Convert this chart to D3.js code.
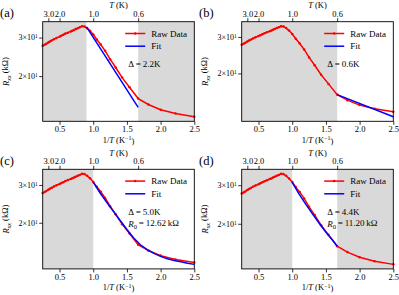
<!DOCTYPE html>
<html><head><meta charset="utf-8">
<script src="https://cdn.jsdelivr.net/npm/d3@7"></script>
<style>body{margin:0;background:#fff}svg{display:block}text{font-family:"Liberation Serif","DejaVu Serif",serif;fill:#000}</style>
</head><body>
<svg id="c" width="399" height="295"></svg>
<script>
// Raw data: temperature (K) and R_xx (kΩ)
const T_raw = [4.0,3.6,3.3,3.0,2.8,2.6,2.4,2.2,2.0,1.9,1.8,1.7,1.6,1.5,1.45,1.4,1.35,1.3,1.25,1.2,1.15,1.1,1.05,1.0,0.95,0.9,0.85,0.8,0.75,0.7,0.65,0.6,0.55,0.5,0.45,0.4];
const R_raw = [27.5,27.8,28.1,28.5,28.8,29.1,29.5,29.9,30.3,30.6,30.9,31.3,31.6,32.0,32.2,32.5,32.8,33.1,33.4,33.8,33.7,33.1,32.2,31.0,29.4,27.9,26.1,23.9,21.9,19.7,17.8,15.8,14.85,14.06,13.5,13.05];
// Fits (1/T in K^-1, R in kΩ)
const fitA_x = [0.9,1.667];
const fitA_R = [33.6,14.4];
const fitB_x = [1.667,2.5];
const fitB_R = [15.8,12.35];
const fitC_x = [1.0,1.1,1.2,1.3,1.4,1.5,1.6,1.7,1.8,1.9,2.0,2.1,2.2,2.3,2.4,2.5];
const fitC_R = [30.9,27.6,24.9,22.6,20.5,18.6,17.0,15.8,15.0,14.4,13.95,13.6,13.35,13.15,12.95,12.8];
const fitD_x = [1.0,1.1,1.2,1.3,1.4,1.5,1.6,1.667];
const fitD_R = [30.9,27.4,24.6,22.2,20.1,18.3,16.8,15.8];
// Shaded (excluded) ranges in 1/T
const grayA = [[0.25,0.9],[1.667,2.5]];
const grayB = [[0.25,1.667]];
const grayC = [[0.25,1.0]];
const grayD = [[0.25,1.0],[1.667,2.5]];
// Ticks
const xTicks = [0.5,1.0,1.5,2.0,2.5];
const topTicksT = [3.0,2.0,1.0,0.6];
const yTicks = [20,30];
const yTickMant = ["2","3"];
const xDomain = [0.25,2.5];

const panels = [
  {lab:"(a)", col:0,row:0, gray:grayA, fx:fitA_x, fr:fitA_R, delta:"2.2K", r0:null},
  {lab:"(b)", col:1,row:0, gray:grayB, fx:fitB_x, fr:fitB_R, delta:"0.6K", r0:null},
  {lab:"(c)", col:0,row:1, gray:grayC, fx:fitC_x, fr:fitC_R, delta:"5.0K", r0:"12.62"},
  {lab:"(d)", col:1,row:1, gray:grayD, fx:fitD_x, fr:fitD_R, delta:"4.4K", r0:"11.20"}
];

const svg = d3.select("#c");
const lefts = [42.7,241.7], tops = [21.7,169.3];
const W = 151.6, H = 99.6;
const RED = "#ff0000", BLUE = "#0000ff";
const raw = T_raw.map((t,i)=>({x:1/t, r:R_raw[i]}));

panels.forEach(p=>{
  const g = svg.append("g").attr("transform",`translate(${lefts[p.col]},${tops[p.row]})`);
  const fit = p.fx.map((x,i)=>({x:x, r:p.fr[i]}));
  const all = raw.concat(fit).map(d=>Math.log10(d.r));
  let lo = d3.min(all), hi = d3.max(all), L = hi-lo;
  const x = d3.scaleLinear().domain(xDomain).range([0,W]);
  const y = d3.scaleLog().domain([Math.pow(10,lo-0.05*L), Math.pow(10,hi+0.05*L)]).range([H,0]);

  g.selectAll("rect.sh").data(p.gray).join("rect").attr("class","sh")
    .attr("x",d=>x(d[0])).attr("width",d=>x(d[1])-x(d[0]))
    .attr("y",0).attr("height",H).attr("fill","#d9d9d9");

  const line = d3.line().x(d=>x(d.x)).y(d=>y(d.r));
  g.append("path").datum(raw).attr("d",line).attr("fill","none").attr("stroke",RED).attr("stroke-width",1.5);
  g.selectAll("circle.m").data(raw).join("circle").attr("class","m")
    .attr("cx",d=>x(d.x)).attr("cy",d=>y(d.r)).attr("r",1.25).attr("fill",RED);
  g.append("path").datum(fit).attr("d",line).attr("fill","none").attr("stroke",BLUE).attr("stroke-width",1.5);

  g.append("rect").attr("width",W).attr("height",H).attr("fill","none").attr("stroke","#000").attr("stroke-width",0.9);

  const bx = d3.axisBottom(x).tickValues(xTicks).tickFormat(d3.format(".1f")).tickSize(3.5).tickPadding(1.5);
  const ga = g.append("g").attr("transform",`translate(0,${H})`).call(bx);
  const tx = d3.axisTop(x).tickValues(topTicksT.map(t=>1/t)).tickFormat((d,i)=>d3.format(".1f")(topTicksT[i])).tickSize(3.5).tickPadding(1.5);
  const gt = g.append("g").call(tx);
  const ly = d3.axisLeft(y).tickValues(yTicks).tickFormat("").tickSize(3.5);
  const gl = g.append("g").call(ly);
  [ga,gt,gl].forEach(a=>{a.attr("font-family",null); a.select(".domain").remove(); a.selectAll("line").attr("stroke","#000").attr("stroke-width",0.8);
    a.selectAll("text").style("font-family",'"Liberation Serif",serif').style("font-size","8.5px").attr("fill","#000");});
  yTicks.forEach((v,i)=>{
    const t = g.append("text").attr("x",-5).attr("y",y(v)).attr("dy","0.35em").attr("text-anchor","end").style("font-size","8px");
    t.append("tspan").text(yTickMant[i]+"\u00d710");
    t.append("tspan").attr("dy","-0.35em").style("font-size","5.5px").text("1");
  });

  const xl = g.append("text").attr("x",W/2).attr("y",H+21.5).attr("text-anchor","middle").style("font-size","8.5px");
  xl.append("tspan").text("1/");
  xl.append("tspan").style("font-style","italic").text("T");
  xl.append("tspan").text(" (K");
  xl.append("tspan").attr("dy","-0.4em").style("font-size","6px").text("\u22121");
  xl.append("tspan").attr("dy","0.4em").text(")");
  const tl = g.append("text").attr("x",W/2).attr("y",-13.5).attr("text-anchor","middle").style("font-size","8.5px");
  tl.append("tspan").style("font-style","italic").text("T");
  tl.append("tspan").text(" (K)");
  const yl = g.append("text").attr("transform",`translate(${-34},${H/2}) rotate(-90)`).attr("text-anchor","middle").style("font-size","8.5px");
  yl.append("tspan").style("font-style","italic").text("R");
  yl.append("tspan").attr("dy","0.3em").style("font-size","6px").style("font-style","italic").text("xx");
  yl.append("tspan").attr("dy","-0.3em").text(" (k\u03a9)");

  svg.append("text").attr("x",lefts[p.col]-42.7).attr("y",tops[p.row]-4.5).style("font-size","12.5px").text(p.lab);

  const lx = 82.5, ly1 = 11.8, ly2 = 24.5;
  g.append("line").attr("x1",lx).attr("x2",lx+20).attr("y1",ly1).attr("y2",ly1).attr("stroke",RED).attr("stroke-width",1.5);
  g.append("circle").attr("cx",lx+10).attr("cy",ly1).attr("r",1.25).attr("fill",RED);
  g.append("line").attr("x1",lx).attr("x2",lx+20).attr("y1",ly2).attr("y2",ly2).attr("stroke",BLUE).attr("stroke-width",1.5);
  g.append("text").attr("x",lx+26).attr("y",ly1).attr("dy","0.35em").style("font-size","9px").text("Raw Data");
  g.append("text").attr("x",lx+26).attr("y",ly2).attr("dy","0.35em").style("font-size","9px").text("Fit");

  g.append("text").attr("x",85.5).attr("y",45.5).style("font-size","9px").text("\u0394\u2009=\u2009"+p.delta);
  if(p.r0){
    const r = g.append("text").attr("x",85.5).attr("y",57.5).style("font-size","9px");
    r.append("tspan").style("font-style","italic").text("R");
    r.append("tspan").attr("dy","0.3em").style("font-size","6.5px").text("0");
    r.append("tspan").attr("dy","-0.3em").text("\u2009=\u2009"+p.r0+"\u2009k\u03a9");
  }
});
</script>
</body></html>
